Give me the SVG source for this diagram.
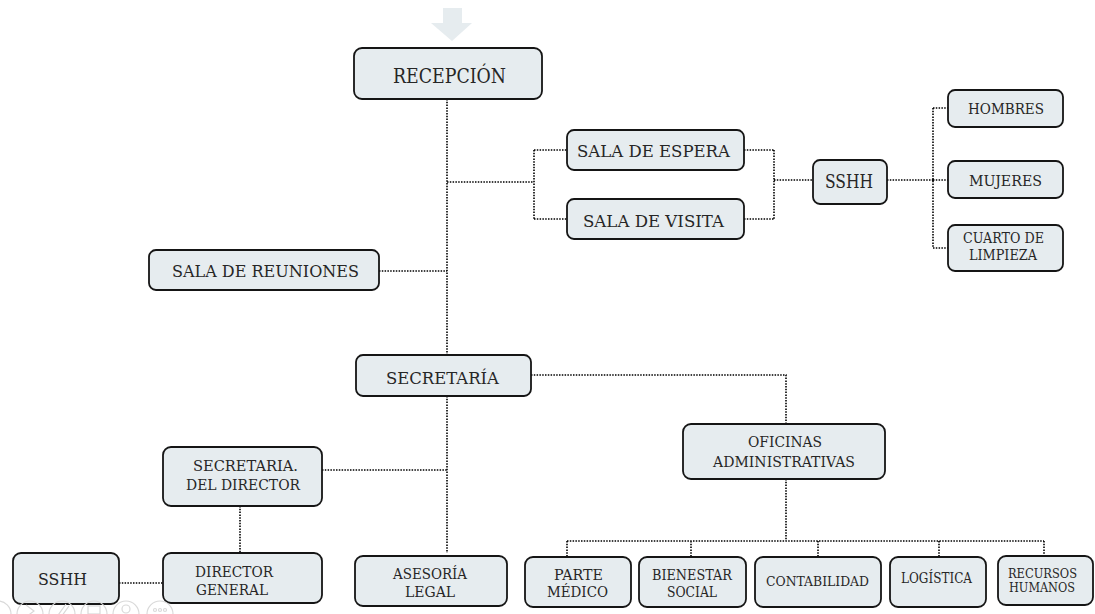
<svg xmlns="http://www.w3.org/2000/svg" width="1095" height="614" viewBox="0 0 1095 614">
<style>
.box{fill:#e6ecef;stroke:#151515;stroke-width:1.8}
.t{font-family:"DejaVu Serif","Liberation Serif","Times New Roman",serif;fill:#262626;text-anchor:middle}
.c{fill:none;stroke:#000000;stroke-width:1.6;stroke-dasharray:1.5 1.3}
.ui{fill:none;stroke:#d9d9d9;stroke-width:1.2}
</style>
<rect width="1095" height="614" fill="#ffffff"/>
<polygon points="443,8 462,8 462,23 472,23 452,41 431,23 443,23" fill="#e6ecef"/>
<g id="connectors">
<path class="c" d="M447,99 V355 M447,396 V553"/>
<path class="c" d="M447,182 H534 M534,150 V219 M534,150 H567 M534,219 H567"/>
<path class="c" d="M744,150 H774 M744,219 H774 M774,150 V219 M774,180 H813"/>
<path class="c" d="M887,180 H933 M933,108 V248 M933,108 H948 M933,180 H948 M933,248 H948"/>
<path class="c" d="M379,271 H447"/>
<path class="c" d="M531,375 H786 V424"/>
<path class="c" d="M786,479 V541 M567,541 H1044 M567,541 V557 M691,541 V557 M818,541 V557 M939,541 V557 M1044,541 V556"/>
<path class="c" d="M322,470 H447"/>
<path class="c" d="M240,506 V553"/>
<path class="c" d="M119,583 H163"/>
</g>
<g id="recepcion"><rect class="box" x="354" y="48" width="188" height="51" rx="8"/><text class="t" x="449.5" y="83" font-size="20" textLength="113" lengthAdjust="spacingAndGlyphs">RECEPCIÓN</text></g>
<g id="sala-espera"><rect class="box" x="567" y="130" width="177" height="40" rx="7"/><text class="t" x="653.5" y="157" font-size="17" textLength="153" lengthAdjust="spacingAndGlyphs">SALA DE ESPERA</text></g>
<g id="sala-visita"><rect class="box" x="567" y="199" width="177" height="40" rx="7"/><text class="t" x="653.5" y="227" font-size="17" textLength="141" lengthAdjust="spacingAndGlyphs">SALA DE VISITA</text></g>
<g id="sshh-1"><rect class="box" x="813" y="160" width="74" height="44" rx="7"/><text class="t" x="849" y="188" font-size="19" textLength="48" lengthAdjust="spacingAndGlyphs">SSHH</text></g>
<g id="hombres"><rect class="box" x="948" y="90" width="115" height="37" rx="7"/><text class="t" x="1006" y="114" font-size="14" textLength="76" lengthAdjust="spacingAndGlyphs">HOMBRES</text></g>
<g id="mujeres"><rect class="box" x="948" y="161" width="115" height="37" rx="7"/><text class="t" x="1005.5" y="186" font-size="14" textLength="73" lengthAdjust="spacingAndGlyphs">MUJERES</text></g>
<g id="cuarto-limpieza"><rect class="box" x="948" y="225" width="115" height="46" rx="7"/><text class="t" x="1003.5" y="243" font-size="14" textLength="81" lengthAdjust="spacingAndGlyphs">CUARTO DE</text><text class="t" x="1003" y="260" font-size="14" textLength="68" lengthAdjust="spacingAndGlyphs">LIMPIEZA</text></g>
<g id="sala-reuniones"><rect class="box" x="149" y="250" width="230" height="40" rx="7"/><text class="t" x="265.5" y="277" font-size="17" textLength="187" lengthAdjust="spacingAndGlyphs">SALA DE REUNIONES</text></g>
<g id="secretaria"><rect class="box" x="356" y="355" width="175" height="41" rx="7"/><text class="t" x="442.5" y="384" font-size="17" textLength="113" lengthAdjust="spacingAndGlyphs">SECRETARÍA</text></g>
<g id="secretaria-director"><rect class="box" x="163" y="447" width="159" height="59" rx="8"/><text class="t" x="245.5" y="471" font-size="14" textLength="105" lengthAdjust="spacingAndGlyphs">SECRETARIA.</text><text class="t" x="243" y="490" font-size="14" textLength="114" lengthAdjust="spacingAndGlyphs">DEL DIRECTOR</text></g>
<g id="director-general"><rect class="box" x="163" y="553" width="159" height="50" rx="8"/><text class="t" x="234" y="577" font-size="14" textLength="78" lengthAdjust="spacingAndGlyphs">DIRECTOR</text><text class="t" x="232" y="595" font-size="14" textLength="72" lengthAdjust="spacingAndGlyphs">GENERAL</text></g>
<g id="sshh-2"><rect class="box" x="13" y="553" width="106" height="51" rx="8"/><text class="t" x="62.5" y="585" font-size="17" textLength="49" lengthAdjust="spacingAndGlyphs">SSHH</text></g>
<g id="asesoria-legal"><rect class="box" x="355" y="556" width="152" height="50" rx="8"/><text class="t" x="430" y="579" font-size="14" textLength="74" lengthAdjust="spacingAndGlyphs">ASESORÍA</text><text class="t" x="430" y="597" font-size="14" textLength="50" lengthAdjust="spacingAndGlyphs">LEGAL</text></g>
<g id="oficinas"><rect class="box" x="683" y="424" width="202" height="55" rx="8"/><text class="t" x="785" y="447" font-size="14" textLength="74" lengthAdjust="spacingAndGlyphs">OFICINAS</text><text class="t" x="784" y="467" font-size="14" textLength="142" lengthAdjust="spacingAndGlyphs">ADMINISTRATIVAS</text></g>
<g id="parte-medico"><rect class="box" x="525" y="557" width="106" height="50" rx="8"/><text class="t" x="578.5" y="580" font-size="14" textLength="49" lengthAdjust="spacingAndGlyphs">PARTE</text><text class="t" x="577.5" y="597" font-size="14" textLength="61" lengthAdjust="spacingAndGlyphs">MÉDICO</text></g>
<g id="bienestar"><rect class="box" x="639" y="557" width="107" height="50" rx="8"/><text class="t" x="692" y="580" font-size="14" textLength="80" lengthAdjust="spacingAndGlyphs">BIENESTAR</text><text class="t" x="692" y="597" font-size="14" textLength="50" lengthAdjust="spacingAndGlyphs">SOCIAL</text></g>
<g id="contabilidad"><rect class="box" x="755" y="557" width="126" height="50" rx="8"/><text class="t" x="817.5" y="586" font-size="13" textLength="103" lengthAdjust="spacingAndGlyphs">CONTABILIDAD</text></g>
<g id="logistica"><rect class="box" x="890" y="557" width="96" height="50" rx="8"/><text class="t" x="936.5" y="583" font-size="14" textLength="71" lengthAdjust="spacingAndGlyphs">LOGÍSTICA</text></g>
<g id="recursos-humanos"><rect class="box" x="998" y="556" width="95" height="49" rx="8"/><text class="t" x="1042.5" y="578" font-size="12" textLength="69" lengthAdjust="spacingAndGlyphs">RECURSOS</text><text class="t" x="1042" y="592" font-size="12" textLength="66" lengthAdjust="spacingAndGlyphs">HUMANOS</text></g>
<g id="viewer-controls" class="ui">
<circle cx="-2" cy="614" r="13"/>
<circle cx="30" cy="614" r="13"/><path d="M26,605 L34,611 L26,617"/>
<circle cx="62" cy="614" r="13"/><path d="M56,618 L66,604 M59,620 L69,606"/>
<circle cx="94" cy="614" r="13"/><rect x="88" y="606" width="12" height="8"/>
<circle cx="126" cy="614" r="13"/><circle cx="126" cy="609" r="4"/>
<circle cx="160" cy="614" r="13"/><circle cx="155" cy="610" r="1.5"/><circle cx="160" cy="610" r="1.5"/><circle cx="165" cy="610" r="1.5"/>
</g>
</svg>
